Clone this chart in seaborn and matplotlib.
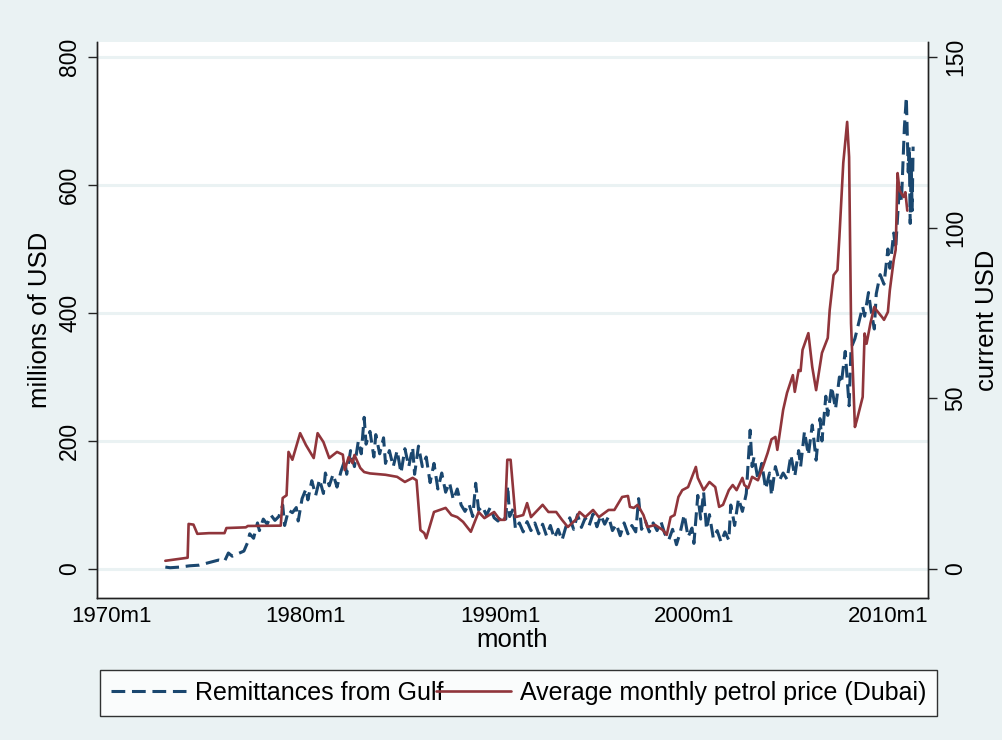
import numpy as np
import pandas as pd
import matplotlib
matplotlib.use('Agg')
import matplotlib.pyplot as plt
import seaborn as sns

# Remittances from Gulf (millions of USD)
remit_year = [1972.75, 1973.0, 1973.5, 1974.0, 1974.5, 1975.0, 1975.5, 1975.8, 1976.0, 1976.2,
              1976.5, 1976.8, 1977.0, 1977.1, 1977.3, 1977.5, 1977.6, 1977.8, 1978.0, 1978.2,
              1978.4, 1978.6, 1978.8, 1978.9, 1979.1, 1979.3, 1979.5, 1979.6, 1979.8, 1980.0,
              1980.1, 1980.3, 1980.5, 1980.7, 1980.9, 1981.0, 1981.2, 1981.4, 1981.6, 1981.8,
              1982.0, 1982.1, 1982.3, 1982.5, 1982.7, 1982.85, 1983.0, 1983.1, 1983.3, 1983.5,
              1983.6, 1983.8, 1984.0, 1984.1, 1984.3, 1984.5, 1984.7, 1984.9, 1985.1, 1985.3,
              1985.5, 1985.6, 1985.8, 1986.0, 1986.2, 1986.4, 1986.6, 1986.8, 1987.0, 1987.2,
              1987.4, 1987.6, 1987.8, 1988.0, 1988.2, 1988.4, 1988.6, 1988.75, 1988.9, 1989.1,
              1989.3, 1989.5, 1989.7, 1989.9, 1990.1, 1990.3, 1990.4, 1990.5, 1990.7, 1990.8,
              1991.0, 1991.2, 1991.4, 1991.6, 1991.8, 1992.0, 1992.2, 1992.4, 1992.6, 1992.8,
              1993.0, 1993.2, 1993.4, 1993.6, 1993.8, 1994.0, 1994.2, 1994.4, 1994.6, 1994.8,
              1995.0, 1995.2, 1995.4, 1995.6, 1995.8, 1996.0, 1996.2, 1996.4, 1996.6, 1996.8,
              1997.0, 1997.15, 1997.3, 1997.5, 1997.7, 1997.9, 1998.1, 1998.3, 1998.5, 1998.7,
              1998.9, 1999.1, 1999.3, 1999.5, 1999.7, 1999.9, 2000.0, 2000.2, 2000.35, 2000.5,
              2000.65, 2000.8, 2001.0, 2001.2, 2001.4, 2001.6, 2001.8, 2001.9, 2002.1, 2002.3,
              2002.5, 2002.7, 2002.9, 2003.0, 2003.1, 2003.3, 2003.5, 2003.7, 2003.9, 2004.0,
              2004.2, 2004.4, 2004.6, 2004.8, 2005.0, 2005.2, 2005.4, 2005.5, 2005.7, 2005.9,
              2006.1, 2006.3, 2006.5, 2006.6, 2006.8, 2006.9, 2007.1, 2007.3, 2007.5, 2007.6,
              2007.8, 2008.0, 2008.1, 2008.3, 2008.5, 2008.7, 2008.8, 2009.0, 2009.1, 2009.3,
              2009.4, 2009.6, 2009.8, 2010.0, 2010.1, 2010.3, 2010.4, 2010.6, 2010.7, 2010.85,
              2010.95, 2011.05, 2011.1, 2011.15, 2011.2, 2011.25, 2011.3]
remit_value = [3, 2, 3, 5, 6, 10, 14, 12, 25, 20,
               24, 28, 42, 55, 48, 72, 60, 78, 70, 84,
               76, 82, 100, 68, 92, 88, 96, 75, 110, 125,
               108, 138, 115, 140, 118, 150, 130, 148, 128, 152,
               170, 148, 185, 160, 200, 180, 237, 195, 215, 175,
               210, 180, 205, 165, 185, 160, 185, 150, 188, 160,
               190, 148, 192, 160, 175, 135, 165, 125, 150, 120,
               135, 108, 125, 100, 90, 102, 82, 134, 92, 98,
               84, 96, 80, 75, 85, 78, 130, 82, 95, 62,
               72, 58, 74, 60, 72, 55, 70, 52, 68, 48,
               62, 45, 66, 80, 62, 85, 65, 80, 68, 86,
               66, 84, 70, 82, 60, 70, 52, 72, 55, 68,
               58, 110, 62, 75, 58, 72, 60, 74, 55, 45,
               62, 38, 58, 85, 50, 64, 40, 115, 78, 120,
               62, 85, 48, 60, 42, 58, 45, 100, 68, 110,
               90, 118, 217, 160, 175, 140, 165, 125, 150, 115,
               160, 138, 150, 140, 178, 145, 185, 160, 215, 178,
               225, 170, 235, 200, 270, 240, 285, 250, 300, 290,
               340, 255, 345, 360, 385, 410, 395, 432, 410, 375,
               430, 460, 445, 500, 470, 525, 500, 600, 575, 690,
               737, 620, 660, 540, 640, 560, 660]

# Average monthly petrol price, Dubai (current USD)
oil_year = [1972.75, 1973.9, 1973.95, 1974.2, 1974.4, 1975.0, 1975.8, 1975.9, 1976.9, 1977.0,
            1978.7, 1978.8, 1979.0, 1979.1, 1979.3, 1979.7, 1979.9, 1980.0, 1980.4, 1980.6,
            1980.9, 1981.2, 1981.6, 1981.9, 1982.0, 1982.2, 1982.4, 1982.5, 1982.8, 1983.0,
            1983.3, 1984.1, 1984.7, 1985.1, 1985.5, 1985.7, 1985.9, 1986.1, 1986.2, 1986.4,
            1986.6, 1987.2, 1987.5, 1987.8, 1988.1, 1988.5, 1988.9, 1989.2, 1989.7, 1990.0,
            1990.25, 1990.38, 1990.55, 1990.8, 1991.2, 1991.4, 1991.6, 1992.2, 1992.5, 1992.9,
            1993.2, 1993.5, 1993.9, 1994.1, 1994.4, 1994.8, 1995.1, 1995.6, 1995.9, 1996.3,
            1996.6, 1996.7, 1996.9, 1997.1, 1997.4, 1997.6, 1998.0, 1998.4, 1998.6, 1998.8,
            1999.0, 1999.2, 1999.4, 1999.7, 2000.1, 2000.2, 2000.5, 2000.8, 2001.1, 2001.3,
            2001.5, 2001.8, 2002.0, 2002.2, 2002.5, 2002.6, 2002.8, 2003.0, 2003.3, 2003.5,
            2003.8, 2004.0, 2004.2, 2004.3, 2004.6, 2004.8, 2005.1, 2005.2, 2005.4, 2005.5,
            2005.6, 2005.9, 2006.1, 2006.3, 2006.6, 2006.9, 2007.0, 2007.2, 2007.4, 2007.5,
            2007.7, 2007.9, 2008.0, 2008.1, 2008.3, 2008.4, 2008.7, 2008.8, 2008.9, 2009.1,
            2009.3, 2009.4, 2009.7, 2009.8, 2010.0, 2010.1, 2010.3, 2010.4, 2010.5, 2010.6,
            2010.8, 2010.9, 2011.0]
oil_value = [2.4, 3.3, 13.2, 13.0, 10.3, 10.5, 10.5, 12.0, 12.2, 12.6,
             12.7, 20.8, 21.6, 34.3, 32.0, 39.8, 37.5, 36.3, 32.5, 39.8,
             37.2, 32.5, 34.3, 33.5, 29.0, 32.8, 31.0, 33.4, 29.6, 28.4,
             28.0, 27.6, 27.0, 25.5, 26.7, 26.0, 11.4, 10.5, 9.0, 12.9,
             16.7, 17.9, 15.8, 15.2, 13.8, 10.9, 16.7, 14.9, 16.7, 14.4,
             14.4, 32.0, 32.0, 15.2, 15.8, 19.3, 15.2, 18.8, 16.7, 16.7,
             14.4, 12.3, 14.4, 16.7, 15.2, 17.3, 15.2, 17.3, 17.3, 21.1,
             21.4, 18.2, 17.9, 18.8, 15.8, 12.3, 12.9, 11.4, 10.0, 15.2,
             15.8, 21.1, 23.1, 24.0, 29.9, 26.7, 23.1, 25.5, 24.0, 18.2,
             18.8, 23.1, 24.6, 23.1, 26.7, 24.6, 23.7, 27.0, 26.0, 29.0,
             34.0, 38.0, 38.7, 34.9, 46.6, 51.6, 56.8, 51.9, 58.3, 58.0,
             64.2, 69.1, 59.2, 52.4, 63.3, 67.7, 75.9, 86.1, 87.6, 97.3,
             119.0, 131.0, 120.7, 72.0, 41.6, 43.6, 50.4, 69.0, 66.0, 72.0,
             76.8, 75.9, 73.8, 73.0, 75.3, 81.7, 90.5, 93.5, 116.0, 111.0,
             109.0, 110.4, 105.0]

left_ticks = [0, 200, 400, 600, 800]
right_ticks = [0, 50, 100, 150]
x_ticks = [1970, 1980, 1990, 2000, 2010]
x_labels = ['1970m1', '1980m1', '1990m1', '2000m1', '2010m1']

remit = pd.DataFrame({'month': remit_year, 'remit': remit_value})
oil = pd.DataFrame({'month': oil_year, 'price': oil_value})

bg = '#EAF2F3'
blue = '#1A476F'
red = '#90353B'

sns.set_theme(style='white')
plt.rcParams['font.family'] = ['Liberation Sans', 'DejaVu Sans']
plt.rcParams['text.color'] = 'black'
plt.rcParams['axes.labelcolor'] = 'black'
plt.rcParams['xtick.color'] = 'black'
plt.rcParams['ytick.color'] = 'black'

fig = plt.figure(figsize=(10.02, 7.4), dpi=100, facecolor=bg)
ax = fig.add_axes([0.0968, 0.1919, 0.8292, 0.7513])
ax.set_facecolor('white')
ax2 = ax.twinx()

# light gridlines at the left-axis ticks
for t in left_ticks:
    ax.axhline(t, color=bg, lw=2.2, zorder=0)

sns.lineplot(data=remit, x='month', y='remit', ax=ax, color=blue, lw=2.2,
             label='Remittances from Gulf', legend=False)
ax.lines[-1].set_dashes((4.5, 2.2))
sns.lineplot(data=oil, x='month', y='price', ax=ax2, color=red, lw=1.9,
             label='Average monthly petrol price (Dubai)', legend=False)

ax.set_xlim(1969.227, 2012.06)
ax.set_ylim(-45.3, 823.4)
ax2.set_ylim(-8.5, 154.4)

ax.set_xticks(x_ticks)
ax.set_xticklabels(x_labels, fontsize=16)
ax.set_yticks(left_ticks)
ax.set_yticklabels([str(t) for t in left_ticks], fontsize=16.5, rotation=90, va='center')
ax2.set_yticks(right_ticks)
ax2.set_yticklabels([str(t) for t in right_ticks], fontsize=16.5, rotation=90, va='center')

for a in (ax, ax2):
    a.tick_params(axis='both', direction='out', length=6.5, width=1.0, color='#222222')
    a.spines['top'].set_visible(False)
    for s in ('left', 'right', 'bottom'):
        a.spines[s].set_color('#222222')
        a.spines[s].set_linewidth(1.0)
ax.tick_params(axis='y', pad=5)
ax2.tick_params(axis='y', pad=5)
ax.tick_params(axis='x', pad=-1)

ax.set_xlabel('month', fontsize=18.5, labelpad=1)
ax.set_ylabel('millions of USD', fontsize=18.5, labelpad=4)
ax2.set_ylabel('current USD', fontsize=18.5, labelpad=6)

h1, l1 = ax.get_legend_handles_labels()
h2, l2 = ax2.get_legend_handles_labels()
leg = fig.legend(h1 + h2, l1 + l2, loc='lower left', bbox_to_anchor=(0.0998, 0.0324),
                 ncol=2, fontsize=18, handlelength=3.0, handletextpad=0.35,
                 columnspacing=-0.3, frameon=True, fancybox=False, borderpad=0.45,
                 borderaxespad=0)
leg.get_frame().set_edgecolor('black')
leg.get_frame().set_linewidth(1.0)
leg.get_frame().set_facecolor('white')

fig.savefig('out.png', dpi=100, facecolor=bg)
